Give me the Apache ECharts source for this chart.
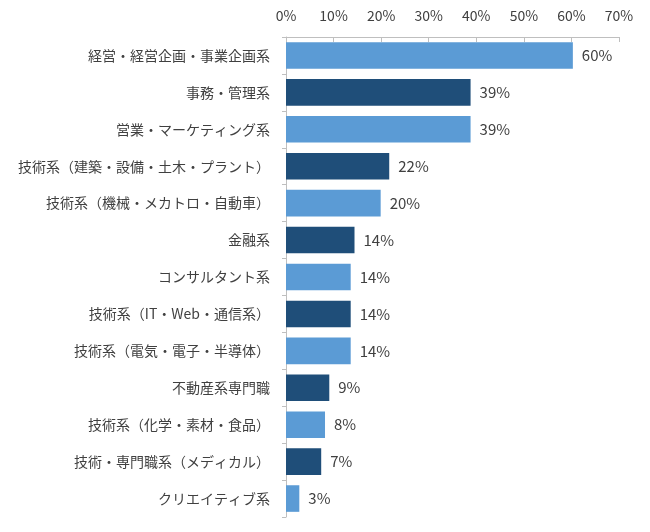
<!DOCTYPE html>
<html>
<head>
<meta charset="utf-8">
<script src="https://cdn.jsdelivr.net/npm/echarts@6/dist/echarts.min.js"></script>
<style>
  html, body { margin: 0; padding: 0; background: #fff; }
  #chart { width: 650px; height: 532px; }
</style>
</head>
<body>
<div id="chart"></div>
<script>
// 職種カテゴリ
var categories = [
  '経営・経営企画・事業企画系',
  '事務・管理系',
  '営業・マーケティング系',
  '技術系（建築・設備・土木・プラント）',
  '技術系（機械・メカトロ・自動車）',
  '金融系',
  'コンサルタント系',
  '技術系（IT・Web・通信系）',
  '技術系（電気・電子・半導体）',
  '不動産系専門職',
  '技術系（化学・素材・食品）',
  '技術・専門職系（メディカル）',
  'クリエイティブ系'
];
// 割合（%）
var values = [60.3, 38.8, 38.8, 21.7, 19.9, 14.4, 13.6, 13.6, 13.6, 9.1, 8.2, 7.4, 2.8];
var tickValues = [0, 10, 20, 30, 40, 50, 60, 70];

var lightBlue = '#5b9bd5';
var darkBlue = '#1f4e79';
var textColor = '#404040';
var axisColor = '#bfbfbf';

var myChart = echarts.init(document.getElementById('chart'));
var option = {
  animation: false,
  textStyle: { fontFamily: '"Noto Sans CJK JP", "Noto Sans", sans-serif' },
  grid: { left: 286, right: 31, top: 37, bottom: 15, containLabel: false },
  xAxis: {
    type: 'value',
    position: 'top',
    min: tickValues[0],
    max: tickValues[tickValues.length - 1],
    interval: 10,
    axisLine: { show: true, lineStyle: { color: axisColor } },
    axisTick: { show: true, inside: true, length: 5, lineStyle: { color: axisColor } },
    splitLine: { show: false },
    axisLabel: { formatter: '{value}%', color: textColor, fontSize: 14, margin: 14 }
  },
  yAxis: {
    type: 'category',
    inverse: true,
    data: categories,
    axisLine: { show: true, lineStyle: { color: axisColor } },
    axisTick: { show: true, length: 4, lineStyle: { color: axisColor } },
    axisLabel: { color: textColor, fontSize: 14, margin: 16 }
  },
  series: [{
    type: 'bar',
    barCategoryGap: '28%',
    data: values.map(function (v, i) {
      return { value: v, itemStyle: { color: i % 2 === 0 ? lightBlue : darkBlue } };
    }),
    label: {
      show: true,
      position: 'right',
      distance: 9,
      color: textColor,
      fontSize: 15,
      formatter: function (p) { return Math.round(p.value) + '%'; }
    }
  }]
};
option && myChart.setOption(option);
</script>
</body>
</html>
